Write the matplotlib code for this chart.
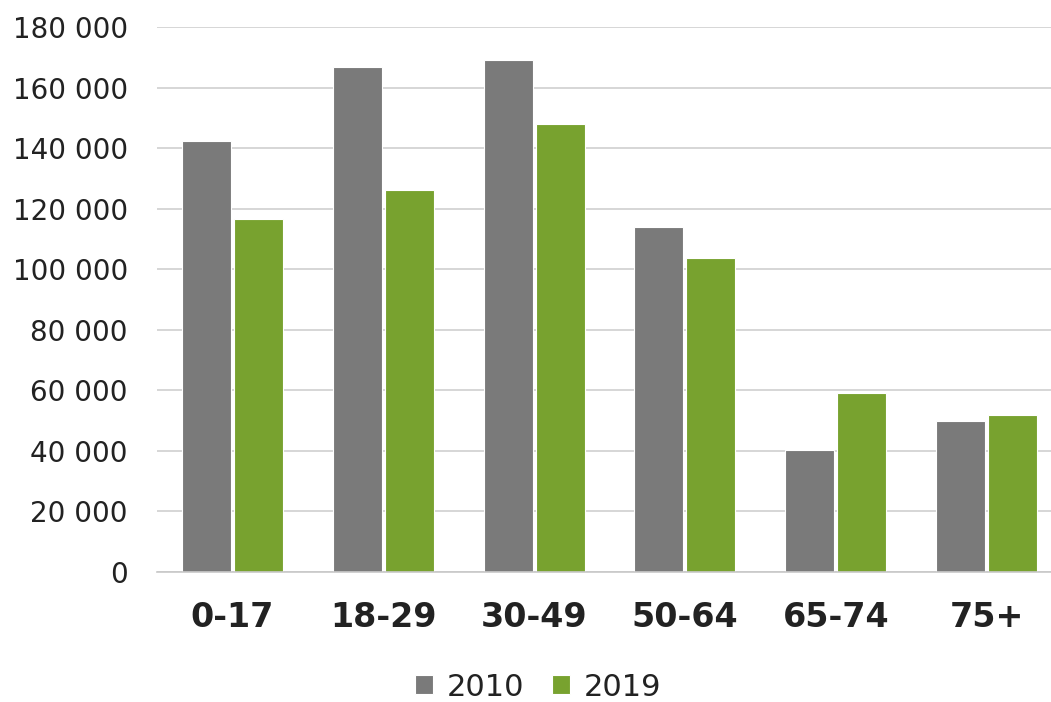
import matplotlib
matplotlib.use("Agg")
import matplotlib.pyplot as plt
import numpy as np
from matplotlib.ticker import FuncFormatter

categories = ["0-17", "18-29", "30-49", "50-64", "65-74", "75+"]
values_2010 = [142500, 166800, 169100, 114000, 40400, 49900]
values_2019 = [116600, 126200, 148000, 103700, 59100, 51900]
series_labels = ["2010", "2019"]
y_ticks = [0, 20000, 40000, 60000, 80000, 100000, 120000, 140000, 160000, 180000]

gray = "#7a7a7a"
green = "#78a22f"

plt.rcParams["font.family"] = ["DejaVu Sans"]

fig = plt.figure(figsize=(10.51, 7.02), dpi=100)
# plot area runs slightly past the right edge of the figure
ax = fig.add_axes([157 / 1051, 130 / 702, 905 / 1051, 545 / 702])

x = np.arange(len(categories))
w = 0.325
off = 0.172
ax.bar(x - off, values_2010, w, color=gray, edgecolor="white", linewidth=0.8,
       label=series_labels[0], zorder=3)
ax.bar(x + off, values_2019, w, color=green, edgecolor="white", linewidth=0.8,
       label=series_labels[1], zorder=3)

ax.set_xlim(-0.5, len(categories) - 0.5)
ax.set_ylim(0, 180000)
ax.set_yticks(y_ticks)
ax.yaxis.set_major_formatter(FuncFormatter(lambda v, p: f"{int(v):,}".replace(",", " ")))
ax.set_xticks(x)
ax.set_xticklabels(categories, fontsize=24, fontweight="bold", color="#222222")

ax.tick_params(axis="y", length=0, pad=21, labelsize=20, labelcolor="#222222")
ax.tick_params(axis="x", length=0, pad=21)
ax.grid(axis="y", color="#d0d0d0", linewidth=1.2, zorder=0)

for side in ["top", "right", "left"]:
    ax.spines[side].set_visible(False)
ax.spines["bottom"].set_color("#c8c8c8")
ax.spines["bottom"].set_linewidth(1.2)
ax.spines["bottom"].set_zorder(4)

leg = fig.legend(loc="center", bbox_to_anchor=(538 / 1051, 1 - 687 / 702),
                 ncol=2, frameon=False, fontsize=22, handlelength=0.6,
                 handleheight=0.6, handletextpad=0.45, columnspacing=0.9)
for t in leg.get_texts():
    t.set_color("#222222")

fig.savefig("out.png", dpi=100)
